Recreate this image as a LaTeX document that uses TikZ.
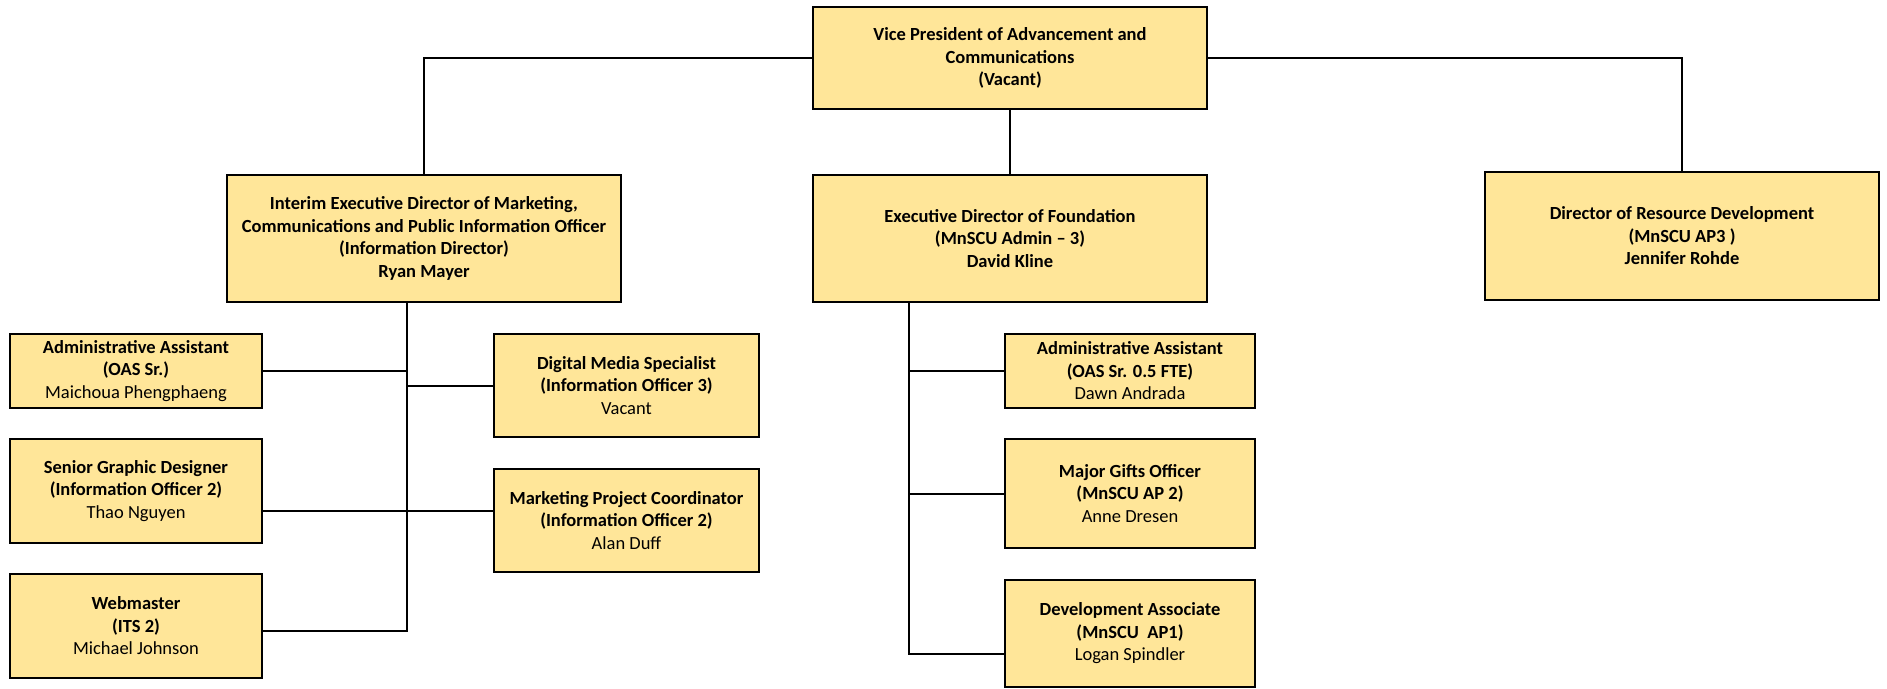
\documentclass[tikz,border=0pt]{standalone}
\usepackage{fontspec}
\setmainfont{Carlito}
\usepackage{tikz}
\definecolor{postfill}{HTML}{FFE699}
\tikzset{
	post/.style={draw=black,line width=2pt,fill=postfill,align=center,inner sep=0pt,font=\bfseries\fontsize{18.5}{22.5}\selectfont},
	link/.style={draw=black,line width=2pt}
}

\begin{document}
\begin{tikzpicture}[x=1pt,y=-1pt]
	\useasboundingbox (0,0) rectangle (1887,688);
	\node[post,minimum width=394pt,minimum height=102pt] (vp) at (1010,58) {Vice President of Advancement and\\Communications\\(Vacant)};
	\node[post,minimum width=394pt,minimum height=127pt] (mkt) at (424,238.5) {Interim Executive Director of Marketing,\\Communications and Public Information Officer\\(Information Director)\\Ryan Mayer};
	\node[post,minimum width=394pt,minimum height=127pt] (fdn) at (1010,238.5) {Executive Director of Foundation\\(MnSCU Admin -- 3)\\David Kline};
	\node[post,minimum width=394pt,minimum height=128pt] (res) at (1682,236) {Director of Resource Development\\(MnSCU AP3 )\\Jennifer Rohde};

	\node[post,minimum width=252pt,minimum height=74pt] (aa1) at (136,371) {Administrative Assistant\\(OAS Sr.)\\\mdseries Maichoua Phengphaeng};
	\node[post,minimum width=252pt,minimum height=104pt] (sgd) at (136,491) {Senior Graphic Designer\\(Information Officer 2)\\\mdseries Thao Nguyen};
	\node[post,minimum width=252pt,minimum height=104pt] (web) at (136,626) {Webmaster\\(ITS 2)\\\mdseries Michael Johnson};
	\node[post,minimum width=265pt,minimum height=103pt] (dms) at (626.5,385.5) {Digital Media Specialist\\(Information Officer 3)\\\mdseries Vacant};
	\node[post,minimum width=265pt,minimum height=103pt] (mpc) at (626.5,520.5) {Marketing Project Coordinator\\(Information Officer 2)\\\mdseries Alan Duff};

	\node[post,minimum width=250pt,minimum height=74pt] (aa2) at (1130,371) {Administrative Assistant\\(OAS Sr. 0.5 FTE)\\\mdseries Dawn Andrada};
	\node[post,minimum width=250pt,minimum height=109pt] (mgo) at (1130,493.5) {Major Gifts Officer\\(MnSCU AP 2)\\\mdseries Anne Dresen};
	\node[post,minimum width=250pt,minimum height=107pt] (dev) at (1130,633.5) {Development Associate\\(MnSCU~~AP1)\\\mdseries Logan Spindler};

	\coordinate (mtop) at ([xshift=-17pt]mkt.south);
	\coordinate (ftop) at ([xshift=-101pt]fdn.south);

	\draw[link] (vp.west) -| (mkt.north);
	\draw[link] (vp.east) -| (res.north);
	\draw[link] (vp.south) -- (fdn.north);

	\draw[link] (mtop) |- ([yshift=-5pt]web.east);
	\draw[link] (aa1.east) -- (aa1.east -| mtop);
	\draw[link] (dms.west) -- (dms.west -| mtop);
	\draw[link] ([yshift=-20pt]sgd.east) -- ([yshift=-20pt]sgd.east -| mpc.west);

	\draw[link] (ftop) |- ([yshift=-20.5pt]dev.west);
	\draw[link] (aa2.west) -- (aa2.west -| ftop);
	\draw[link] (mgo.west) -- (mgo.west -| ftop);
\end{tikzpicture}
\end{document}
